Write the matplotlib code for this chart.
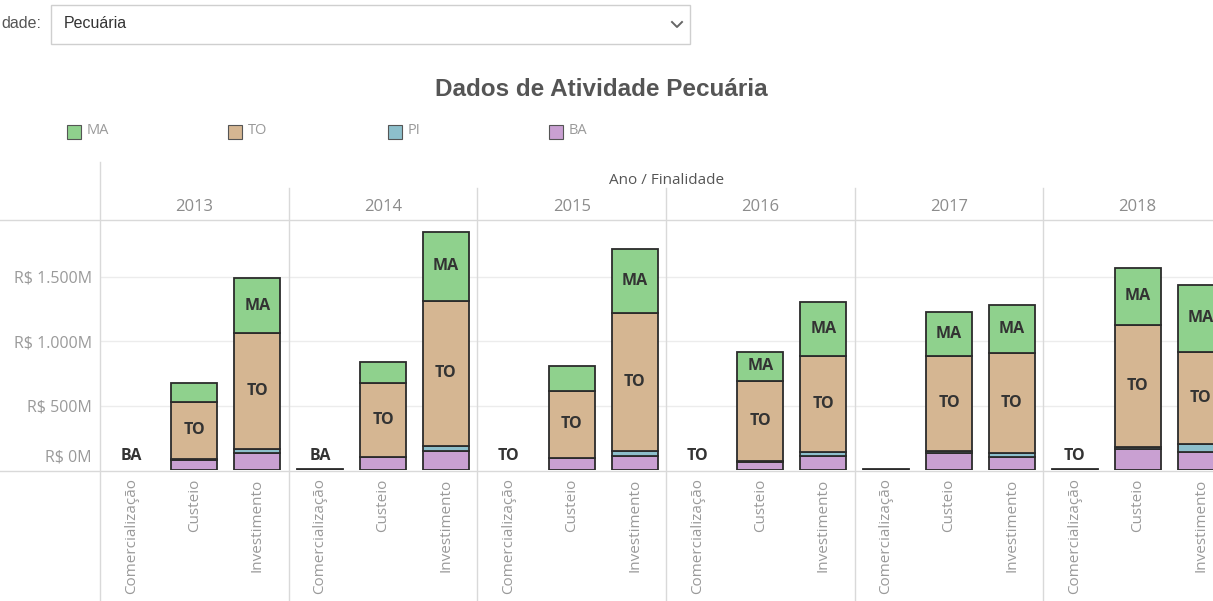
import matplotlib
matplotlib.use("Agg")
import matplotlib.pyplot as plt
from matplotlib.lines import Line2D
from matplotlib.patches import Rectangle

W, H = 1213, 601
years = ['2013', '2014', '2015', '2016', '2017', '2018']
finalidades = ['Comercialização', 'Custeio', 'Investimento']
series = ['MA', 'TO', 'PI', 'BA']
colors = {'MA': '#8fd18d', 'TO': '#d5b692', 'PI': '#8dbfcb', 'BA': '#c9a0d2'}

# values in R$ millions, order per year: Comercialização, Custeio, Investimento
BA = [1, 78, 129,   8, 98, 150,   0, 90, 109,   0, 65, 109,   8, 129, 98,   0, 160, 137]
PI = [0, 5, 31,     0, 5, 38,     0, 5, 38,     0, 5, 28,     0, 18, 31,    0, 21, 65]
TO = [0, 447, 904,  0, 569, 1122, 1, 517, 1068, 1, 622, 750,  0, 740, 781,  8, 943, 715]
MA = [0, 142, 422,  0, 168, 537,  0, 194, 498,  0, 225, 413,  0, 340, 369,  0, 444, 517]
com_labels = ['BA', 'BA', 'TO', 'TO', '', 'TO']
yticks = [0, 500, 1000, 1500]
ytick_labels = ['R$ 0M', 'R$ 500M', 'R$ 1.000M', 'R$ 1.500M']

data = {'MA': MA, 'TO': TO, 'PI': PI, 'BA': BA}
stack_order = ['BA', 'PI', 'TO', 'MA']

fig = plt.figure(figsize=(W / 100, H / 100), dpi=100)
fig.patch.set_facecolor('white')

def fx(x):
    return x / W

def fy(y):
    return 1 - y / H

# axes geometry in pixels
left_px, right_px, top_px, bot_px = 100, 1232, 220, 470
ax = fig.add_axes([fx(left_px), fy(bot_px), fx(right_px - left_px), (bot_px - top_px) / H])
ax.set_facecolor('none')
n = len(years) * len(finalidades)
xs = list(range(n))
ax.set_xlim(-0.5, n - 0.5)
ax.set_ylim(0, 1938)

for y in yticks[1:]:
    ax.axhline(y, color='#ececec', lw=1, zorder=0)

lab_kw = dict(fontsize=11.5, fontweight='bold', color='#333333', family='Open Sans', zorder=4)
bottoms = [0.0] * n
for s in stack_order:
    vals = data[s]
    for i, v in enumerate(vals):
        if v <= 0:
            continue
        lw = 1.3 if v >= 3 else 0
        ax.bar(xs[i], v, bottom=bottoms[i], width=0.73, color=colors[s],
               edgecolor='#2b2b2b', linewidth=lw, zorder=3)
        if i % 3 != 0 and v >= 200:
            ax.text(xs[i], bottoms[i] + v / 2, s, ha='center', va='center', **lab_kw)
    bottoms = [b + v for b, v in zip(bottoms, vals)]

for k, lab in enumerate(com_labels):
    if lab:
        ax.annotate(lab, (xs[3 * k], 0), xytext=(0, 4), textcoords='offset points',
                    ha='center', va='bottom', **lab_kw)

ytick_kw = dict(fontsize=11.5, color='#9a9a9a', family='Open Sans')
ax.set_yticks(yticks)
ax.set_yticklabels([''] + ytick_labels[1:], **ytick_kw)
# zero label sits just above the baseline, inside the pane
ax.annotate(ytick_labels[0], xy=(0, yticks[0]), xycoords=('axes fraction', 'data'),
            xytext=(-6, 3), textcoords='offset points', ha='right', va='bottom',
            annotation_clip=False, **ytick_kw)
ax.set_xticks(xs)
ax.set_xticklabels(finalidades * len(years), rotation=90, fontsize=11,
                   color='#9a9a9a', family='Open Sans', va='top')
ax.tick_params(axis='both', length=0)
ax.tick_params(axis='x', pad=6)
ax.tick_params(axis='y', pad=6)
for sp in ax.spines.values():
    sp.set_visible(False)

# frame lines
def hline(y, x0, x1, c='#d9d9d9', lw=1):
    fig.add_artist(Line2D([fx(x0), fx(x1)], [fy(y), fy(y)], color=c, lw=lw))

def vline(x, y0, y1, c='#d9d9d9', lw=1):
    fig.add_artist(Line2D([fx(x), fx(x)], [fy(y0), fy(y1)], color=c, lw=lw))

hline(220, 0, W)
hline(470.5, 0, W)
vline(100, 162, H)
pane_w = (right_px - left_px) / len(years)
for k in range(1, len(years)):
    vline(left_px + k * pane_w, 188, H)

for k, yr in enumerate(years):
    fig.text(fx(left_px + (k + 0.5) * pane_w), fy(207), yr, ha='center', va='center',
             fontsize=12, color='#8c8c8c', family='Open Sans')
fig.text(fx(667), fy(181), 'Ano / Finalidade', ha='center', va='center',
         fontsize=11, color='#555555', family='Open Sans')

# title
fig.text(fx(601), fy(89), 'Dados de Atividade Pecuária', ha='center', va='center',
         fontsize=17.5, fontweight='bold', color='#555555', family='Liberation Sans')

# legend
leg_x = [67, 228, 388, 549]
for s, lx in zip(series, leg_x):
    fig.add_artist(Rectangle((fx(lx), fy(139)), fx(14), 14 / H, facecolor=colors[s],
                             edgecolor='#555555', lw=0.8))
    fig.text(fx(lx + 20), fy(131), s, ha='left', va='center', fontsize=10.5,
             color='#9a9a9a', family='Open Sans')

# filter dropdown
fig.text(fx(1), fy(24), 'dade:', ha='left', va='center', fontsize=11.5,
         color='#555555', family='Liberation Sans')
fig.add_artist(Rectangle((fx(51), fy(44)), fx(639), 39 / H, facecolor='white',
                         edgecolor='#cfcfcf', lw=1))
fig.text(fx(64), fy(23), 'Pecuária', ha='left', va='center', fontsize=11.5,
         color='#333333', family='Liberation Sans')
fig.add_artist(Line2D([fx(672), fx(677), fx(682)], [fy(22), fy(27), fy(22)],
                      color='#666666', lw=1.4))

fig.savefig('out.png', dpi=100, facecolor='white')
